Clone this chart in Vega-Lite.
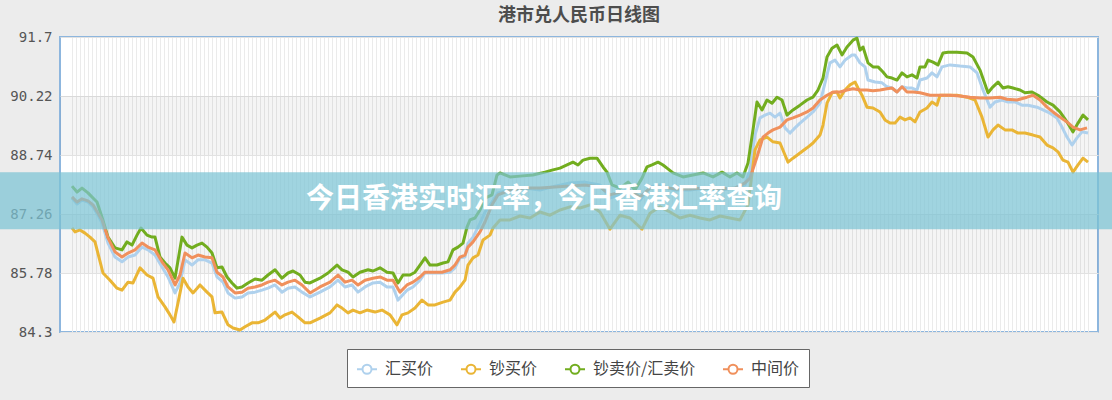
{
  "$schema": "https://vega.github.io/schema/vega-lite/v6.json",
  "width": 1038,
  "height": 295,
  "autosize": {"type": "none"},
  "padding": {"left": 60, "top": 37, "right": 14, "bottom": 68},
  "background": "#ececec",
  "title": {"text": "港市兑人民币日线图", "fontSize": 18, "fontWeight": "bold", "color": "#4d4d4d", "font": "Noto Sans CJK SC", "anchor": "middle", "offset": 5},
  "config": {
    "view": {"fill": "white", "stroke": "#8db6de", "strokeWidth": 2},
    "font": "Noto Sans CJK SC",
    "axisX": {"grid": true, "labels": false, "ticks": false, "domain": false, "title": null, "tickCount": 260, "gridColor": "#ebebeb", "gridWidth": 1},
    "axisY": {"title": null, "ticks": false, "domain": false, "grid": true, "gridColor": "#e2e2e2", "labelFont": "DejaVu Sans Mono", "labelFontSize": 14, "labelColor": "#555555", "labelPadding": 8}
  },
  "layer": [
    {
      "data": {"values": [{"lo": 88.74, "hi": 90.22}, {"lo": 85.78, "hi": 87.26}]},
      "mark": {"type": "rect", "fill": "#000000", "opacity": 0.04},
      "encoding": {
        "y": {"field": "lo", "type": "quantitative", "scale": {"domain": [84.3, 91.7], "zero": false, "nice": false}, "axis": {"values": [84.3, 85.78, 87.26, 88.74, 90.22, 91.7], "format": ".4~r", "title": null}},
        "y2": {"field": "hi"}
      }
    },
    {
      "data": {"values": [
        {"d":0,"v":87.66},{"d":1.25,"v":87.51},{"d":2.5,"v":87.61},{"d":4,"v":87.56},{"d":5.25,"v":87.44},{"d":6.5,"v":87.23},{"d":7.5,"v":87.03},{"d":9,"v":86.53},{"d":10.75,"v":86.18},{"d":12.5,"v":86.06},{"d":14,"v":86.18},{"d":15.75,"v":86.23},{"d":17.5,"v":86.43},{"d":19,"v":86.36},{"d":20.75,"v":86.23},{"d":22.5,"v":85.93},{"d":24,"v":85.68},{"d":25.75,"v":85.28},{"d":27,"v":85.53},{"d":28.25,"v":86.11},{"d":30,"v":85.98},{"d":31.5,"v":86.11},{"d":33.25,"v":86.11},{"d":35,"v":86.03},{"d":36.25,"v":85.68},{"d":37.75,"v":85.55},{"d":39,"v":85.28},{"d":40.75,"v":85.15},{"d":42.5,"v":85.18},{"d":44,"v":85.28},{"d":45.75,"v":85.3},{"d":47.5,"v":85.35},{"d":49,"v":85.4},{"d":50.75,"v":85.48},{"d":52.5,"v":85.3},{"d":54,"v":85.4},{"d":55.75,"v":85.43},{"d":57.5,"v":85.3},{"d":59.5,"v":85.18},{"d":62,"v":85.3},{"d":64.5,"v":85.43},{"d":66.5,"v":85.6},{"d":68.25,"v":85.43},{"d":70,"v":85.48},{"d":71.5,"v":85.3},{"d":73.25,"v":85.43},{"d":75.25,"v":85.53},{"d":77,"v":85.55},{"d":78.75,"v":85.43},{"d":80.25,"v":85.43},{"d":81.5,"v":85.1},{"d":83.75,"v":85.35},{"d":85.25,"v":85.43},{"d":87,"v":85.6},{"d":88.25,"v":85.78},{"d":90.25,"v":85.78},{"d":92.5,"v":85.78},{"d":94.5,"v":85.8},{"d":95.75,"v":85.91},{"d":97,"v":86.16},{"d":98.25,"v":86.18},{"d":99,"v":86.53},{"d":100.25,"v":86.68},{"d":102,"v":87.03},{"d":103.25,"v":87.31},{"d":105,"v":87.56},{"d":106.5,"v":87.79},{"d":109.5,"v":87.86},{"d":113.25,"v":87.91},{"d":117,"v":87.86},{"d":120.75,"v":87.96},{"d":124.5,"v":88.04},{"d":128.25,"v":88.06},{"d":132,"v":87.99},{"d":134.5,"v":87.66},{"d":137,"v":87.74},{"d":139.5,"v":87.79},{"d":142,"v":87.61},{"d":144.5,"v":87.94},{"d":147,"v":87.99},{"d":150.75,"v":87.86},{"d":154.5,"v":87.86},{"d":158.25,"v":87.91},{"d":162,"v":87.86},{"d":165.75,"v":87.91},{"d":168.25,"v":87.99},{"d":169.5,"v":88.36},{"d":170.75,"v":89.24},{"d":172,"v":89.67},{"d":173.25,"v":89.74},{"d":174.5,"v":89.79},{"d":175.75,"v":89.69},{"d":177,"v":89.79},{"d":178.25,"v":89.42},{"d":179.5,"v":89.29},{"d":180.75,"v":89.42},{"d":182,"v":89.54},{"d":183.75,"v":89.69},{"d":185.25,"v":89.82},{"d":187,"v":90.04},{"d":188.25,"v":90.55},{"d":189.5,"v":91.05},{"d":190.75,"v":91.12},{"d":192,"v":90.95},{"d":193.25,"v":91.12},{"d":195,"v":91.25},{"d":195.75,"v":91.25},{"d":197,"v":91.05},{"d":198.25,"v":90.95},{"d":199,"v":90.62},{"d":200.75,"v":90.57},{"d":202.5,"v":90.55},{"d":203.75,"v":90.45},{"d":205,"v":90.42},{"d":206.25,"v":90.32},{"d":207.5,"v":90.45},{"d":208.75,"v":90.42},{"d":210,"v":90.42},{"d":211.25,"v":90.37},{"d":212,"v":90.62},{"d":213.75,"v":90.67},{"d":215,"v":90.8},{"d":216.25,"v":90.7},{"d":217.5,"v":90.95},{"d":219.5,"v":91.0},{"d":222,"v":90.97},{"d":224.5,"v":90.95},{"d":226.25,"v":90.8},{"d":227.75,"v":90.37},{"d":229.5,"v":89.94},{"d":230.75,"v":90.07},{"d":232.5,"v":90.12},{"d":234,"v":90.07},{"d":235.75,"v":90.07},{"d":237.5,"v":89.99},{"d":239,"v":89.99},{"d":241.25,"v":89.94},{"d":242.75,"v":89.87},{"d":244.5,"v":89.79},{"d":246.25,"v":89.67},{"d":247.5,"v":89.44},{"d":248.75,"v":89.19},{"d":250,"v":88.99},{"d":251.25,"v":89.17},{"d":252.5,"v":89.32},{"d":254,"v":89.29}
      ]},
      "mark": {"type": "line", "strokeWidth": 3, "strokeJoin": "round"},
      "encoding": {
        "x": {"field": "d", "type": "quantitative", "scale": {"domain": [-3, 256.5], "nice": false, "zero": false}, "axis": {"gridOpacity": {"condition": {"test": "datum.value < 0 || datum.value > 254", "value": 0}, "value": 1}}},
        "y": {"field": "v", "type": "quantitative", "scale": {"domain": [84.3, 91.7], "zero": false, "nice": false}},
        "color": {"datum": "汇买价", "scale": {"domain": ["汇买价", "钞买价", "钞卖价/汇卖价", "中间价"], "range": ["#afd1ed", "#eab535", "#72ad1f", "#f0905c"]},
          "legend": {"orient": "none", "legendX": 287, "legendY": 312, "direction": "horizontal", "columns": 4, "title": null, "fillColor": "white", "strokeColor": "#666666", "padding": 9, "symbolType": "M-1,0H-0.45M0.45,0H1M0.45,0A0.45,0.45,0,1,1,-0.45,0A0.45,0.45,0,1,1,0.45,0", "symbolSize": 400, "symbolStrokeWidth": 2, "symbolFillColor": "white", "labelFontSize": 16, "labelColor": "#444444", "labelFont": "Noto Sans CJK SC", "columnPadding": 23, "labelOffset": 7}}
      }
    },
    {
      "data": {"values": [
        {"d":0,"v":86.91},{"d":0.75,"v":86.81},{"d":2,"v":86.86},{"d":3.25,"v":86.78},{"d":4.5,"v":86.68},{"d":5.75,"v":86.56},{"d":7.75,"v":85.78},{"d":9.5,"v":85.6},{"d":11.25,"v":85.4},{"d":12.5,"v":85.35},{"d":14,"v":85.55},{"d":15.25,"v":85.53},{"d":17,"v":85.91},{"d":18.75,"v":85.73},{"d":20.25,"v":85.65},{"d":21.5,"v":85.18},{"d":23.25,"v":84.93},{"d":24.5,"v":84.73},{"d":25.5,"v":84.55},{"d":26.5,"v":85.03},{"d":27.75,"v":85.65},{"d":29,"v":85.43},{"d":30.25,"v":85.28},{"d":32,"v":85.48},{"d":33.75,"v":85.3},{"d":35,"v":85.18},{"d":35.75,"v":84.78},{"d":37.5,"v":84.8},{"d":39,"v":84.48},{"d":40.25,"v":84.4},{"d":42,"v":84.35},{"d":43.25,"v":84.43},{"d":45,"v":84.53},{"d":46.5,"v":84.53},{"d":48.25,"v":84.6},{"d":50.75,"v":84.8},{"d":52,"v":84.65},{"d":53.25,"v":84.73},{"d":55,"v":84.8},{"d":56.5,"v":84.68},{"d":58.25,"v":84.53},{"d":59.5,"v":84.53},{"d":62,"v":84.65},{"d":64.5,"v":84.78},{"d":66.25,"v":84.98},{"d":67.5,"v":84.9},{"d":69,"v":84.78},{"d":70.25,"v":84.85},{"d":72,"v":84.78},{"d":73.75,"v":84.85},{"d":75.75,"v":84.8},{"d":77.5,"v":84.85},{"d":79.5,"v":84.73},{"d":81.25,"v":84.48},{"d":82.5,"v":84.73},{"d":84,"v":84.78},{"d":85.75,"v":84.9},{"d":87.5,"v":85.1},{"d":89,"v":84.98},{"d":90.75,"v":84.98},{"d":92.75,"v":85.05},{"d":94.5,"v":85.1},{"d":95.75,"v":85.3},{"d":97,"v":85.43},{"d":98.25,"v":85.6},{"d":99,"v":85.98},{"d":100.25,"v":86.16},{"d":101.5,"v":86.23},{"d":102.75,"v":86.61},{"d":104.5,"v":86.73},{"d":105.25,"v":86.91},{"d":107,"v":87.11},{"d":109.5,"v":87.11},{"d":112,"v":87.21},{"d":114.5,"v":87.16},{"d":117,"v":87.31},{"d":119.5,"v":87.23},{"d":122,"v":87.36},{"d":124.5,"v":87.44},{"d":127,"v":87.41},{"d":129.5,"v":87.49},{"d":132,"v":87.31},{"d":134.5,"v":86.88},{"d":137,"v":87.23},{"d":139.5,"v":87.16},{"d":142.5,"v":86.88},{"d":144.5,"v":87.28},{"d":147,"v":87.44},{"d":149.5,"v":87.31},{"d":152,"v":87.16},{"d":154.5,"v":87.23},{"d":157,"v":87.16},{"d":159.5,"v":87.11},{"d":162,"v":87.21},{"d":164.5,"v":87.16},{"d":167,"v":87.11},{"d":169,"v":87.49},{"d":170.75,"v":88.87},{"d":172,"v":89.12},{"d":173.75,"v":89.19},{"d":175.25,"v":89.07},{"d":177,"v":89.04},{"d":178.25,"v":88.74},{"d":179,"v":88.56},{"d":180.25,"v":88.66},{"d":182,"v":88.79},{"d":183.75,"v":88.92},{"d":185.25,"v":89.04},{"d":187,"v":89.24},{"d":187.75,"v":89.49},{"d":188.75,"v":90.04},{"d":190,"v":90.3},{"d":191.25,"v":90.32},{"d":192,"v":90.17},{"d":193.25,"v":90.37},{"d":194.5,"v":90.5},{"d":195.75,"v":90.57},{"d":196.5,"v":90.42},{"d":197.5,"v":90.24},{"d":198.75,"v":89.94},{"d":200.25,"v":89.92},{"d":202,"v":89.82},{"d":203.25,"v":89.62},{"d":204.5,"v":89.54},{"d":205.75,"v":89.54},{"d":207,"v":89.69},{"d":208.25,"v":89.62},{"d":209.5,"v":89.67},{"d":210.75,"v":89.57},{"d":212,"v":89.82},{"d":213.75,"v":89.92},{"d":215,"v":90.07},{"d":216.25,"v":89.99},{"d":217,"v":90.24},{"d":218.75,"v":90.24},{"d":221.25,"v":90.24},{"d":223.75,"v":90.19},{"d":225.75,"v":90.12},{"d":227.5,"v":89.69},{"d":229,"v":89.19},{"d":230.25,"v":89.37},{"d":231.5,"v":89.49},{"d":233.25,"v":89.37},{"d":235,"v":89.37},{"d":236.5,"v":89.29},{"d":238.25,"v":89.29},{"d":240.25,"v":89.24},{"d":242,"v":89.19},{"d":243.75,"v":88.99},{"d":245.25,"v":88.92},{"d":246.5,"v":88.82},{"d":247.75,"v":88.61},{"d":249,"v":88.56},{"d":250.25,"v":88.31},{"d":251.5,"v":88.49},{"d":252.75,"v":88.66},{"d":254,"v":88.56}
      ]},
      "mark": {"type": "line", "strokeWidth": 3, "strokeJoin": "round"},
      "encoding": {
        "x": {"field": "d", "type": "quantitative", "scale": {"domain": [-3, 256.5], "nice": false, "zero": false}},
        "y": {"field": "v", "type": "quantitative", "scale": {"domain": [84.3, 91.7], "zero": false, "nice": false}},
        "color": {"datum": "钞买价"}
      }
    },
    {
      "data": {"values": [
        {"d":0,"v":87.96},{"d":1.25,"v":87.81},{"d":2.5,"v":87.91},{"d":4,"v":87.79},{"d":5.25,"v":87.66},{"d":6.25,"v":87.56},{"d":7.5,"v":87.18},{"d":9,"v":86.68},{"d":10.75,"v":86.41},{"d":12.5,"v":86.36},{"d":13.75,"v":86.56},{"d":15,"v":86.48},{"d":16.25,"v":86.73},{"d":17.25,"v":86.91},{"d":18.75,"v":86.73},{"d":20,"v":86.68},{"d":20.75,"v":86.68},{"d":22,"v":86.18},{"d":23.25,"v":86.03},{"d":24.5,"v":85.91},{"d":25.75,"v":85.65},{"d":27.5,"v":86.68},{"d":28.75,"v":86.48},{"d":30,"v":86.41},{"d":31.25,"v":86.48},{"d":32.5,"v":86.53},{"d":33.75,"v":86.43},{"d":35,"v":86.28},{"d":36.25,"v":85.91},{"d":37.5,"v":85.93},{"d":38.75,"v":85.68},{"d":40,"v":85.53},{"d":41.25,"v":85.4},{"d":42.5,"v":85.43},{"d":44,"v":85.53},{"d":45.75,"v":85.63},{"d":47.5,"v":85.6},{"d":49,"v":85.73},{"d":50.75,"v":85.86},{"d":52.5,"v":85.65},{"d":54,"v":85.78},{"d":55.25,"v":85.83},{"d":57,"v":85.73},{"d":58.25,"v":85.55},{"d":59.5,"v":85.53},{"d":62,"v":85.65},{"d":64,"v":85.78},{"d":66.25,"v":85.98},{"d":67.5,"v":85.86},{"d":69,"v":85.8},{"d":70.25,"v":85.68},{"d":72,"v":85.8},{"d":74,"v":85.86},{"d":75.25,"v":85.83},{"d":77,"v":85.91},{"d":78.75,"v":85.8},{"d":80.25,"v":85.78},{"d":81.5,"v":85.53},{"d":82.75,"v":85.73},{"d":84.5,"v":85.73},{"d":85.75,"v":85.8},{"d":87,"v":85.98},{"d":88.25,"v":86.16},{"d":89.5,"v":85.98},{"d":91.25,"v":85.98},{"d":92.75,"v":86.03},{"d":94,"v":86.06},{"d":95.25,"v":86.36},{"d":96.5,"v":86.43},{"d":97.75,"v":86.53},{"d":98.75,"v":86.93},{"d":99.5,"v":87.11},{"d":100.75,"v":87.16},{"d":102,"v":87.36},{"d":103.25,"v":87.66},{"d":105,"v":87.74},{"d":106.25,"v":88.24},{"d":107,"v":88.29},{"d":109.5,"v":88.19},{"d":112,"v":88.21},{"d":115.25,"v":88.24},{"d":118.25,"v":88.31},{"d":120,"v":88.36},{"d":122,"v":88.41},{"d":123.75,"v":88.49},{"d":125.25,"v":88.56},{"d":126.5,"v":88.49},{"d":127.75,"v":88.61},{"d":129.5,"v":88.66},{"d":131.25,"v":88.66},{"d":132.75,"v":88.44},{"d":133.75,"v":88.31},{"d":135,"v":87.99},{"d":137,"v":87.91},{"d":139,"v":88.06},{"d":140.75,"v":87.86},{"d":142.5,"v":88.16},{"d":143.75,"v":88.44},{"d":145,"v":88.49},{"d":146.5,"v":88.56},{"d":147.75,"v":88.49},{"d":148.75,"v":88.41},{"d":150.25,"v":88.29},{"d":152.75,"v":88.19},{"d":155.25,"v":88.24},{"d":157.75,"v":88.29},{"d":160.25,"v":88.19},{"d":162.5,"v":88.31},{"d":164.5,"v":88.19},{"d":166.25,"v":88.29},{"d":167.75,"v":88.19},{"d":169,"v":88.54},{"d":170.25,"v":89.37},{"d":171.25,"v":90.07},{"d":172.5,"v":89.87},{"d":173.75,"v":90.12},{"d":175,"v":90.04},{"d":176.25,"v":90.19},{"d":177.5,"v":90.12},{"d":178.75,"v":89.74},{"d":180.25,"v":89.87},{"d":182,"v":89.99},{"d":183.75,"v":90.12},{"d":185.25,"v":90.19},{"d":186.5,"v":90.37},{"d":187.75,"v":90.67},{"d":188.75,"v":91.2},{"d":190,"v":91.42},{"d":191.25,"v":91.5},{"d":192.5,"v":91.25},{"d":193.75,"v":91.45},{"d":195.25,"v":91.62},{"d":196.25,"v":91.67},{"d":197,"v":91.37},{"d":197.75,"v":91.45},{"d":199,"v":91.05},{"d":200.25,"v":90.95},{"d":201.5,"v":90.95},{"d":202.75,"v":90.82},{"d":203.75,"v":90.7},{"d":205,"v":90.67},{"d":206.25,"v":90.62},{"d":207.5,"v":90.8},{"d":208.75,"v":90.7},{"d":210,"v":90.75},{"d":211.25,"v":90.67},{"d":212,"v":90.95},{"d":213.25,"v":90.95},{"d":214,"v":91.12},{"d":215.25,"v":91.07},{"d":216.5,"v":91.0},{"d":217.75,"v":91.3},{"d":219,"v":91.32},{"d":221.25,"v":91.32},{"d":223.75,"v":91.3},{"d":225.25,"v":91.2},{"d":227,"v":90.87},{"d":229,"v":90.3},{"d":230.25,"v":90.45},{"d":231.5,"v":90.57},{"d":232.75,"v":90.42},{"d":234,"v":90.45},{"d":235.25,"v":90.42},{"d":237,"v":90.37},{"d":238.25,"v":90.3},{"d":240,"v":90.32},{"d":241.5,"v":90.24},{"d":243.75,"v":90.07},{"d":245.25,"v":89.99},{"d":247,"v":89.82},{"d":248.75,"v":89.57},{"d":250.25,"v":89.32},{"d":251.5,"v":89.54},{"d":252.75,"v":89.74},{"d":254,"v":89.62}
      ]},
      "mark": {"type": "line", "strokeWidth": 3, "strokeJoin": "round"},
      "encoding": {
        "x": {"field": "d", "type": "quantitative", "scale": {"domain": [-3, 256.5], "nice": false, "zero": false}},
        "y": {"field": "v", "type": "quantitative", "scale": {"domain": [84.3, 91.7], "zero": false, "nice": false}},
        "color": {"datum": "钞卖价/汇卖价"}
      }
    },
    {
      "data": {"values": [
        {"d":0,"v":87.69},{"d":1.25,"v":87.56},{"d":2.5,"v":87.64},{"d":4,"v":87.59},{"d":5.25,"v":87.49},{"d":6.5,"v":87.28},{"d":7.5,"v":87.11},{"d":9,"v":86.66},{"d":10.75,"v":86.31},{"d":12.5,"v":86.18},{"d":14,"v":86.28},{"d":15.75,"v":86.36},{"d":17.5,"v":86.53},{"d":19,"v":86.43},{"d":20.75,"v":86.36},{"d":22.5,"v":86.06},{"d":24,"v":85.86},{"d":25.75,"v":85.48},{"d":27,"v":85.73},{"d":28.25,"v":86.28},{"d":30,"v":86.16},{"d":31.5,"v":86.23},{"d":33.25,"v":86.18},{"d":35,"v":86.16},{"d":36.25,"v":85.8},{"d":37.75,"v":85.68},{"d":39,"v":85.43},{"d":40.75,"v":85.28},{"d":42.5,"v":85.3},{"d":44,"v":85.4},{"d":45.75,"v":85.43},{"d":47.5,"v":85.48},{"d":49,"v":85.55},{"d":50.75,"v":85.6},{"d":52.5,"v":85.48},{"d":54,"v":85.55},{"d":55.75,"v":85.6},{"d":57.5,"v":85.48},{"d":59.5,"v":85.28},{"d":62,"v":85.43},{"d":64.5,"v":85.55},{"d":66.5,"v":85.73},{"d":68.25,"v":85.55},{"d":70,"v":85.6},{"d":71.5,"v":85.48},{"d":73.25,"v":85.6},{"d":75.25,"v":85.65},{"d":77,"v":85.68},{"d":78.75,"v":85.6},{"d":80.25,"v":85.6},{"d":82,"v":85.3},{"d":83.75,"v":85.48},{"d":85.25,"v":85.55},{"d":87,"v":85.68},{"d":88.25,"v":85.8},{"d":90.25,"v":85.8},{"d":92.5,"v":85.8},{"d":94.5,"v":85.86},{"d":95.75,"v":85.98},{"d":97,"v":86.18},{"d":98.25,"v":86.23},{"d":99,"v":86.43},{"d":100.25,"v":86.56},{"d":102,"v":86.81},{"d":103.25,"v":87.06},{"d":105,"v":87.49},{"d":106.5,"v":87.74},{"d":109.5,"v":87.86},{"d":113.25,"v":87.91},{"d":117,"v":87.91},{"d":120.75,"v":87.94},{"d":124.5,"v":87.96},{"d":128.25,"v":87.99},{"d":132,"v":87.94},{"d":134.5,"v":87.74},{"d":137,"v":87.81},{"d":139.5,"v":87.84},{"d":142,"v":87.69},{"d":144.5,"v":87.91},{"d":147,"v":87.94},{"d":150.75,"v":87.89},{"d":154.5,"v":87.89},{"d":158.25,"v":87.91},{"d":162,"v":87.89},{"d":165.75,"v":87.91},{"d":168.25,"v":88.04},{"d":169.5,"v":88.16},{"d":171.25,"v":88.69},{"d":172.75,"v":89.19},{"d":174,"v":89.29},{"d":175.25,"v":89.37},{"d":177,"v":89.44},{"d":178.75,"v":89.62},{"d":180.25,"v":89.67},{"d":182,"v":89.74},{"d":183.75,"v":89.82},{"d":185.25,"v":89.92},{"d":187,"v":90.12},{"d":188.75,"v":90.24},{"d":190.25,"v":90.32},{"d":192,"v":90.32},{"d":193.75,"v":90.37},{"d":195.25,"v":90.4},{"d":197,"v":90.37},{"d":198.75,"v":90.37},{"d":200.25,"v":90.35},{"d":202,"v":90.37},{"d":203.75,"v":90.4},{"d":205,"v":90.42},{"d":206.25,"v":90.32},{"d":207.5,"v":90.45},{"d":208.75,"v":90.32},{"d":210.25,"v":90.32},{"d":212,"v":90.3},{"d":214.5,"v":90.24},{"d":217,"v":90.24},{"d":219.5,"v":90.24},{"d":222,"v":90.22},{"d":224.5,"v":90.19},{"d":227,"v":90.17},{"d":229.5,"v":90.17},{"d":232,"v":90.19},{"d":233.75,"v":90.14},{"d":236.25,"v":90.12},{"d":238.75,"v":90.19},{"d":240.25,"v":90.24},{"d":242,"v":90.12},{"d":243.75,"v":89.94},{"d":245.25,"v":89.82},{"d":247,"v":89.69},{"d":248.75,"v":89.57},{"d":250.25,"v":89.44},{"d":252,"v":89.37},{"d":253.75,"v":89.42}
      ]},
      "mark": {"type": "line", "strokeWidth": 3, "strokeJoin": "round"},
      "encoding": {
        "x": {"field": "d", "type": "quantitative", "scale": {"domain": [-3, 256.5], "nice": false, "zero": false}},
        "y": {"field": "v", "type": "quantitative", "scale": {"domain": [84.3, 91.7], "zero": false, "nice": false}},
        "color": {"datum": "中间价"}
      }
    },
    {
      "data": {"values": [{"x1": -18, "x2": 260, "y1": 86.88, "y2": 88.31}]},
      "mark": {"type": "rect", "fill": "#7cc4d4", "opacity": 0.72},
      "encoding": {
        "x": {"field": "x1", "type": "quantitative", "scale": {"domain": [-3, 256.5], "nice": false, "zero": false}},
        "x2": {"field": "x2"},
        "y": {"field": "y1", "type": "quantitative", "scale": {"domain": [84.3, 91.7], "zero": false, "nice": false}},
        "y2": {"field": "y2"}
      }
    },
    {
      "data": {"values": [{"d": 118, "v": 87.61, "t": "今日香港实时汇率，今日香港汇率查询"}]},
      "mark": {"type": "text", "color": "white", "fontSize": 28, "fontWeight": "bold", "font": "Noto Sans CJK SC", "align": "center", "baseline": "middle"},
      "encoding": {
        "x": {"field": "d", "type": "quantitative", "scale": {"domain": [-3, 256.5], "nice": false, "zero": false}},
        "y": {"field": "v", "type": "quantitative", "scale": {"domain": [84.3, 91.7], "zero": false, "nice": false}},
        "text": {"field": "t"}
      }
    }
  ]
}
